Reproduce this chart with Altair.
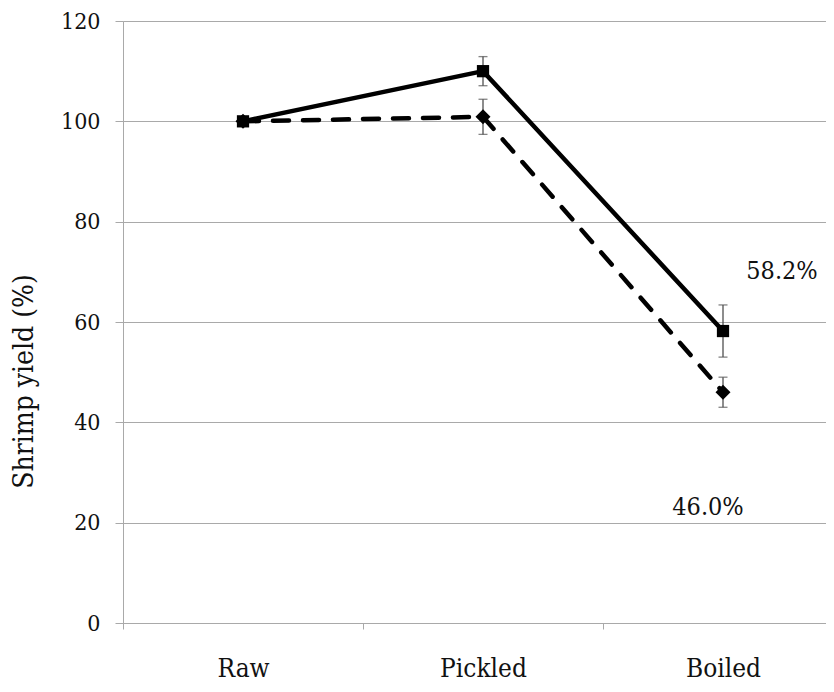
import altair as alt
import pandas as pd

# ---- data ----
stages = ["Raw", "Pickled", "Boiled"]
series_names = ["Solid", "Dashed"]
yield_solid = [100.0, 110.0, 58.2]
err_solid = [0.0, 2.9, 5.2]
yield_dashed = [100.0, 100.9, 46.0]
err_dashed = [0.0, 3.5, 3.0]

ann_text = ["58.2%", "46.0%"]
ann_stage = ["Boiled", "Boiled"]
ann_y = [68.5, 21.5]
ann_dx = [59, -15]

rows = []
for name, ys, es in [(series_names[0], yield_solid, err_solid),
                     (series_names[1], yield_dashed, err_dashed)]:
    for s, v, e in zip(stages, ys, es):
        rows.append({"series": name, "stage": s, "y": v, "lo": v - e, "hi": v + e})
df = pd.DataFrame(rows)

FONT = "DejaVu Serif Condensed, DejaVu Serif"
GRID = "#a9a9a9"
XSCALE = alt.Scale(domain=stages, paddingInner=0, paddingOuter=0)

xenc = alt.X(
    "stage:N",
    sort=stages,
    scale=XSCALE,
    axis=alt.Axis(
        title=None, labelAngle=0, tickBand="extent", tickSize=6,
        labelPadding=47, labelBaseline="alphabetic", labelFontSize=26,
        labelColor="#111111", labelFont=FONT, domainColor=GRID, tickColor=GRID,
        grid=False,
    ),
)
yenc = alt.Y(
    "y:Q",
    scale=alt.Scale(domain=[0, 120], nice=False),
    axis=alt.Axis(
        values=[0, 20, 40, 60, 80, 100, 120], grid=True, gridColor=GRID,
        domainColor=GRID, tickColor=GRID, tickSize=8, labelPadding=15,
        labelFontSize=23, labelColor="#111111", labelFont=FONT,
        title="Shrimp yield (%)", titleFont=FONT, titleFontSize=28,
        titleFontWeight="normal", titleColor="#111111",
        titleX=-99, titleY=360, titleAngle=270,
        titleBaseline="middle", titleAlign="center",
    ),
)

base = alt.Chart(df)

err_rule = base.mark_rule(color="#505050", strokeWidth=1.3).encode(
    x=xenc, y=alt.Y("lo:Q"), y2="hi:Q"
).transform_filter("datum.hi > datum.lo")
cap_hi = base.mark_tick(color="#505050", size=9, thickness=1.3).encode(
    x=xenc, y=alt.Y("hi:Q")
).transform_filter("datum.hi > datum.lo")
cap_lo = base.mark_tick(color="#505050", size=9, thickness=1.3).encode(
    x=xenc, y=alt.Y("lo:Q")
).transform_filter("datum.hi > datum.lo")

line_dashed = base.transform_filter(alt.datum.series == series_names[1]).mark_line(
    color="black", strokeWidth=4.5, strokeDash=[16, 14], strokeCap="round"
).encode(x=xenc, y=yenc)
line_solid = base.transform_filter(alt.datum.series == series_names[0]).mark_line(
    color="black", strokeWidth=4.5
).encode(x=xenc, y=yenc)

pts_dashed = base.transform_filter(alt.datum.series == series_names[1]).mark_point(
    shape="diamond", filled=True, color="black", size=225, opacity=1
).encode(x=xenc, y=yenc)
pts_solid = base.transform_filter(alt.datum.series == series_names[0]).mark_point(
    shape="square", filled=True, color="black", size=150, opacity=1
).encode(x=xenc, y=yenc)

label_layers = []
for t, s, yv, d in zip(ann_text, ann_stage, ann_y, ann_dx):
    sub = pd.DataFrame({"text": [t], "stage": [s], "y": [yv]})
    label_layers.append(
        alt.Chart(sub).mark_text(
            font=FONT, fontSize=25, color="#111111", align="center",
            baseline="alphabetic", dx=d
        ).encode(x=xenc, y=alt.Y("y:Q"), text="text:N")
    )

chart = alt.layer(
    err_rule, cap_hi, cap_lo, line_dashed, line_solid, pts_dashed, pts_solid,
    *label_layers
).properties(
    width=720, height=602,
    autosize=alt.AutoSizeParams(type="none"),
    padding={"left": 115, "top": 13, "right": -17, "bottom": 61},
).configure_view(stroke=None).configure(background="white")

chart.save("out.html", embed_options={"renderer": "svg", "actions": False})
